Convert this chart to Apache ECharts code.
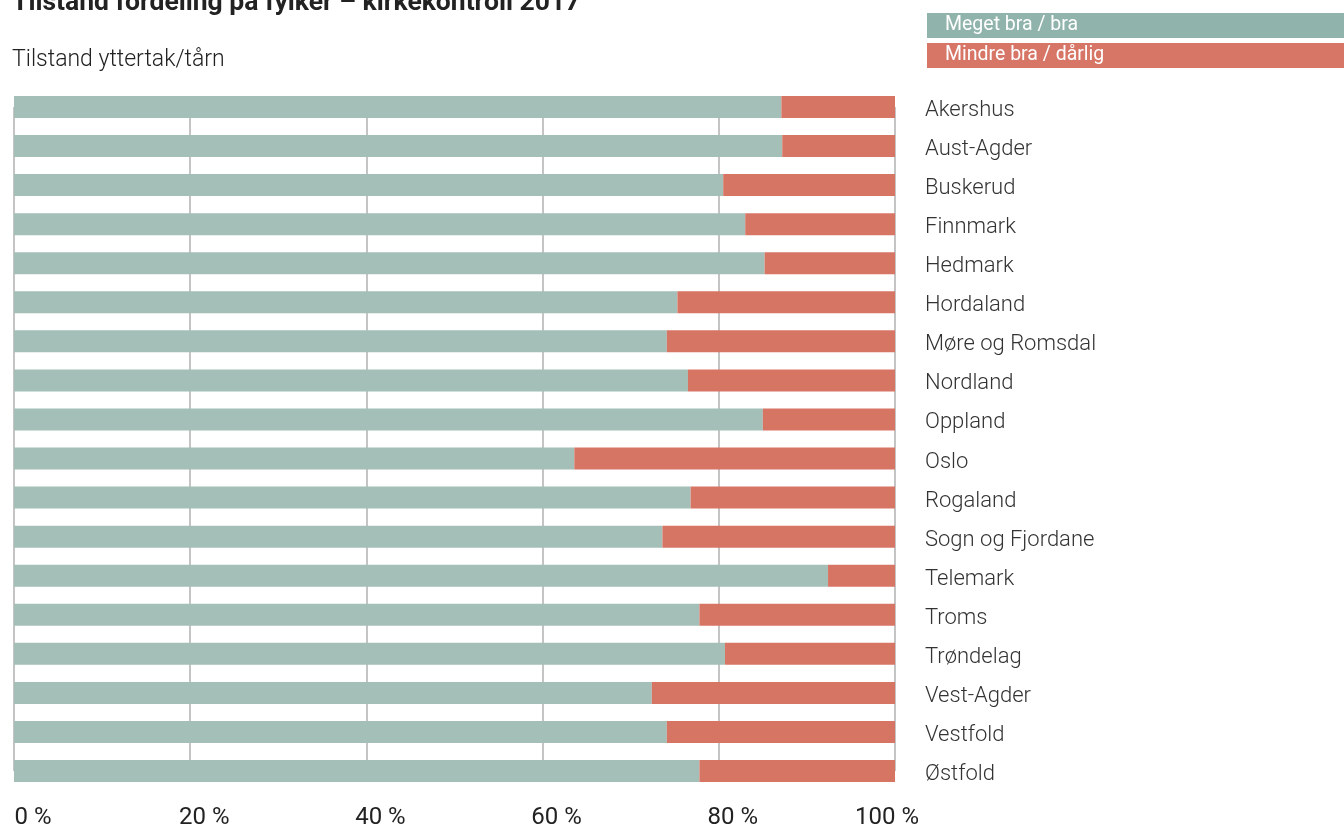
<!DOCTYPE html>
<html>
<head>
<meta charset="utf-8">
<script src="https://cdn.jsdelivr.net/npm/echarts@6/dist/echarts.min.js"></script>
<style>
  html, body { margin: 0; padding: 0; background: #fff; }
  #show { width: 1344px; height: 828px; }
</style>
</head>
<body>
<div id="show"></div>
<script>
var myChart = echarts.init(document.getElementById("show"));

var fylker = ["Akershus", "Aust-Agder", "Buskerud", "Finnmark", "Hedmark", "Hordaland",
    "Møre og Romsdal", "Nordland", "Oppland", "Oslo", "Rogaland", "Sogn og Fjordane",
    "Telemark", "Troms", "Trøndelag", "Vest-Agder", "Vestfold", "Østfold"];

// andel i prosent
var braAndel = [87.1, 87.2, 80.5, 83.0, 85.2, 75.3, 74.1, 76.5, 85.0, 63.6, 76.8, 73.6, 92.4, 77.8, 80.7, 72.4, 74.1, 77.8];
var daarligAndel = [12.9, 12.8, 19.5, 17.0, 14.8, 24.7, 25.9, 23.5, 15.0, 36.4, 23.2, 26.4, 7.6, 22.2, 19.3, 27.6, 25.9, 22.2];

var serieNavn = ["Meget bra / bra", "Mindre bra / dårlig"];

var font = "Roboto";

myChart.setOption(option = {
    textStyle: { fontFamily: font },
    title: [
        {
            text: "Tilstand fordeling på fylker – kirkekontroll 2017",
            left: 7,
            top: -15,
            textStyle: { fontSize: 26.5, fontWeight: 'bold', color: '#222', fontFamily: font }
        },
        {
            text: "Tilstand yttertak/tårn",
            left: 7,
            top: 44,
            textStyle: { fontSize: 23, fontWeight: 300, color: '#222', fontFamily: font }
        }
    ],
    legend: {
        orient: 'vertical',
        left: 917,
        top: 8,
        itemGap: 5,
        itemWidth: 0,
        itemHeight: 0,
        icon: 'rect',
        selectedMode: false,
        data: [
            {
                name: serieNavn[0],
                textStyle: {
                    color: '#fff', backgroundColor: '#90b4ab', fontSize: 19.5,
                    width: 404, height: 25, lineHeight: 25, padding: [0, 0, 0, 18]
                }
            },
            {
                name: serieNavn[1],
                textStyle: {
                    color: '#fff', backgroundColor: '#d77566', fontSize: 19.5,
                    width: 404, height: 25, lineHeight: 25, padding: [0, 0, 0, 18]
                }
            }
        ]
    },
    grid: {
        left: 14,
        right: 449,
        top: 107,
        bottom: 57,
        outerBoundsMode: 'none'
    },
    xAxis: {
        type: 'value',
        min: 0,
        max: 100,
        interval: 20,
        axisLine: { show: false },
        axisTick: { show: false },
        splitLine: { lineStyle: { color: '#c4c4c4', width: 2 } },
        axisLabel: {
            margin: 35,
            color: '#222',
            fontSize: 24,
            fontFamily: font,
            formatter: function (v) {
                if (v === 0) return '{l|0 %}';
                if (v === 100) return '{r|100 %}';
                return '{m|' + v + ' %}';
            },
            rich: {
                l: { fontSize: 24, padding: [0, 0, 0, 38] },
                m: { fontSize: 24, padding: [0, 0, 0, 28] },
                r: { fontSize: 24, padding: [0, 16, 0, 0] }
            }
        }
    },
    yAxis: {
        type: 'category',
        data: fylker,
        inverse: true,
        position: 'right',
        boundaryGap: false,
        axisLine: { show: false },
        axisTick: { show: false },
        splitLine: { show: false },
        axisLabel: {
            margin: 30,
            color: '#333',
            fontSize: 22,
            fontWeight: 300,
            fontFamily: font,
            formatter: function (v) { return '{n|' + v + '}'; },
            rich: {
                n: { fontSize: 22, fontWeight: 300, color: '#333', padding: [7, 0, 0, 0] }
            }
        }
    },
    series: [
        {
            name: serieNavn[0],
            type: 'bar',
            stack: 'tilstand',
            barWidth: 22,
            data: braAndel,
            itemStyle: { color: '#a3bfb7' },
            silent: true
        },
        {
            name: serieNavn[1],
            type: 'bar',
            stack: 'tilstand',
            barWidth: 22,
            data: daarligAndel,
            itemStyle: { color: '#d77565' },
            silent: true
        }
    ],
    animation: false
});
</script>
</body>
</html>
